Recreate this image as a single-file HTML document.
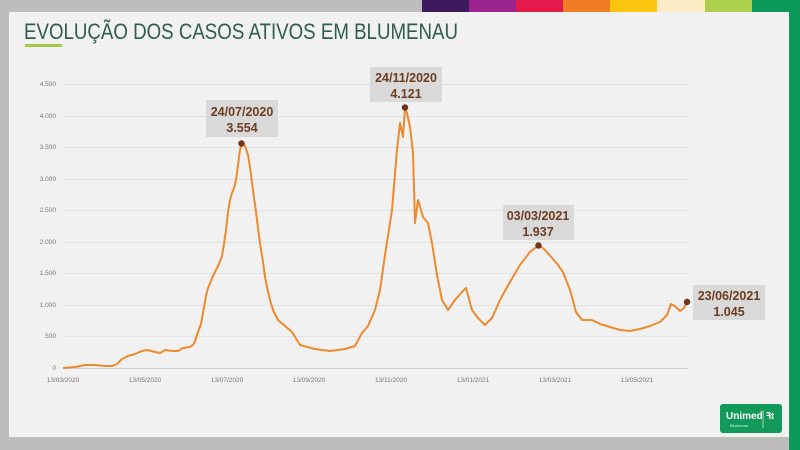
<!DOCTYPE html>
<html><head><meta charset="utf-8"><style>
body{margin:0;width:800px;height:450px;overflow:hidden;background:#bdbdbd;font-family:"Liberation Sans",sans-serif}
</style></head><body>
<svg width="800" height="450" xmlns="http://www.w3.org/2000/svg" style="position:absolute;left:0;top:0">
<rect x="0" y="0" width="800" height="450" fill="#bdbdbd"/>
<rect x="9" y="12" width="780" height="425" fill="#f1f1f1"/>
<rect x="422" y="0" width="47" height="12" fill="#3d1a5e"/>
<rect x="469" y="0" width="47" height="12" fill="#9b2390"/>
<rect x="516" y="0" width="47" height="12" fill="#e5194a"/>
<rect x="563" y="0" width="47" height="12" fill="#f07d23"/>
<rect x="610" y="0" width="47" height="12" fill="#fcc60e"/>
<rect x="657" y="0" width="48" height="12" fill="#fbecc5"/>
<rect x="705" y="0" width="47" height="12" fill="#acd04b"/>
<rect x="752" y="0" width="48" height="12" fill="#0b9a5a"/>
<rect x="789" y="0" width="11" height="450" fill="#0b9a5a"/>
<text x="24" y="39" font-size="22" fill="#2f5e4c" font-family="Liberation Sans Narrow, Liberation Sans, sans-serif" textLength="434" lengthAdjust="spacingAndGlyphs">EVOLUÇÃO DOS CASOS ATIVOS EM BLUMENAU</text>
<rect x="25" y="44" width="37" height="3" fill="#a6c84b"/>
<g stroke="#e2e2e2" stroke-width="1">
<line x1="63" x2="688" y1="84.5" y2="84.5"/><line x1="63" x2="688" y1="116.5" y2="116.5"/>
<line x1="63" x2="688" y1="147.5" y2="147.5"/><line x1="63" x2="688" y1="179.5" y2="179.5"/>
<line x1="63" x2="688" y1="210.5" y2="210.5"/><line x1="63" x2="688" y1="242.5" y2="242.5"/>
<line x1="63" x2="688" y1="273.5" y2="273.5"/><line x1="63" x2="688" y1="305.5" y2="305.5"/>
<line x1="63" x2="688" y1="336.5" y2="336.5"/></g>
<line x1="63" x2="688" y1="368.5" y2="368.5" stroke="#cfcfcf"/>
<g font-size="6.5" fill="#777" text-anchor="end">
<text x="56" y="86">4.500</text><text x="56" y="118">4.000</text><text x="56" y="149">3.500</text>
<text x="56" y="181">3.000</text><text x="56" y="212">2.500</text><text x="56" y="244">2.000</text>
<text x="56" y="275">1.500</text><text x="56" y="307">1.000</text><text x="56" y="338">500</text><text x="56" y="370">0</text></g>
<g font-size="6.5" fill="#777" text-anchor="middle">
<text x="63" y="382">13/03/2020</text><text x="145" y="382">13/05/2020</text><text x="227" y="382">13/07/2020</text>
<text x="309" y="382">13/09/2020</text><text x="391" y="382">13/11/2020</text><text x="473" y="382">13/01/2021</text>
<text x="555" y="382">13/03/2021</text><text x="637" y="382">13/05/2021</text></g>
<polyline fill="none" stroke="#ee8a2e" stroke-width="2" stroke-linejoin="round" points="63,368 75,367 85,365 95,365 105,366 112,366 117,364 122,359 128,356 135,354 142,351 147,350 155,352 160,353 165,350 172,351 178,351 183,348 190,347 194,344 197,335 201,324 203,313 206,296 208,288 211,281 213,276 216,270 219,264 222,256 224,244 226,230 228,212 230,200 232,193 234,188 236,180 238,165 240,150 242,143 245,146 248,155 250,167 253,190 256,212 258,228 260,243 263,262 265,277 267,287 270,300 273,310 278,320 285,326 292,332 300,345 315,349 330,351 345,349 355,346 362,333 368,326 375,310 380,290 385,255 392,210 397,150 400,123 403,137 405,108 407,113 410,127 413,153 415,223 418,200 423,217 428,223 432,243 437,275 442,300 448,310 455,300 462,292 466,288 472,310 478,318 485,325 492,318 500,300 510,282 520,265 530,252 535,248 539,245 545,250 552,258 558,265 563,272 570,290 576,312 582,320 592,320 600,324 610,327 620,330 630,331 640,329 650,326 660,322 667,315 671,304 676,307 680,311 684,308 687,302"/>
<circle cx="241.5" cy="143.5" r="3.2" fill="#6e3514"/>
<circle cx="405" cy="107.5" r="3.2" fill="#6e3514"/>
<circle cx="538.5" cy="245.5" r="3.2" fill="#6e3514"/>
<circle cx="687" cy="302" r="3.2" fill="#6e3514"/>
<g font-size="12.5" font-weight="bold" fill="#6e3c1e" text-anchor="middle">
<rect x="206" y="100" width="72" height="37" fill="#d9d9d9"/>
<text x="242" y="116">24/07/2020</text><text x="242" y="132">3.554</text>
<rect x="370" y="67" width="72" height="35" fill="#d9d9d9"/>
<text x="406" y="82">24/11/2020</text><text x="406" y="98">4.121</text>
<rect x="503" y="205" width="71" height="35" fill="#d9d9d9"/>
<text x="538" y="220">03/03/2021</text><text x="538" y="236">1.937</text>
<rect x="693" y="285" width="72" height="35" fill="#d9d9d9"/>
<text x="729" y="300">23/06/2021</text><text x="729" y="316">1.045</text></g>
<rect x="720" y="404" width="62" height="29" rx="3" fill="#129a5a"/>
<text x="726" y="419" font-size="10" font-weight="bold" fill="#fff">Unimed</text>
<line x1="763" y1="410" x2="763" y2="428" stroke="#fff" stroke-width="0.6"/>
<text x="766" y="419" font-size="9" font-weight="bold" fill="#fff">ꟻt</text>
<text x="730" y="427" font-size="4" fill="#cfe">Blumenau</text>
</svg>
</body></html>
